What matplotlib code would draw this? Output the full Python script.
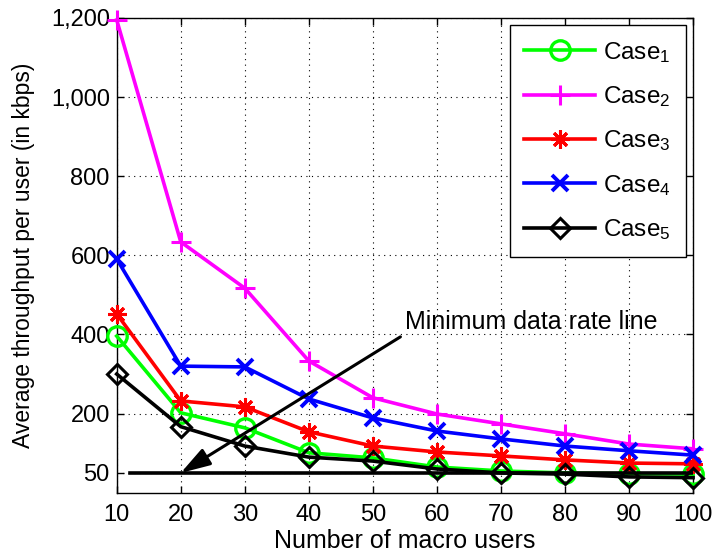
import matplotlib
matplotlib.use("Agg")
import matplotlib.pyplot as plt
from matplotlib.ticker import FuncFormatter

plt.rcParams["font.family"] = ["Liberation Sans", "DejaVu Sans"]
plt.rcParams["mathtext.fontset"] = "custom"
plt.rcParams["mathtext.rm"] = "Liberation Sans"
plt.rcParams["mathtext.it"] = "Liberation Sans"

users = [10, 20, 30, 40, 50, 60, 70, 80, 90, 100]
case1 = [396, 202, 164, 101, 88, 65, 55, 50, 48, 47]
case2 = [1195, 634, 517, 333, 240, 199, 174, 149, 123, 111]
case3 = [452, 232, 217, 154, 118, 103, 93, 83, 75, 73]
case4 = [591, 320, 318, 237, 189, 156, 136, 118, 106, 95]
case5 = [300, 167, 118, 90, 80, 60, 50, 47, 40, 38]
min_rate_x = [12, 100]
min_rate = [50, 50]
yticks = [50, 200, 400, 600, 800, 1000, 1200]

fig = plt.figure(figsize=(7.16, 5.57), dpi=100)
ax = fig.add_axes([0.163, 0.1154, 0.805, 0.8523])

lw = 2.6
kw = dict(lw=lw, clip_on=False, zorder=3)
ax.plot(users, case1, "-o", color="#00ff00", ms=14, mfc="none", mew=2.4, label="Case$_1$", **kw)
ax.plot(users, case2, "-+", color="#ff00ff", ms=14, mew=2.2, label="Case$_2$", **kw)
ax.plot(users, case3, "-", marker=(8, 2, 0), color="#ff0000", ms=13, mew=2.2, label="Case$_3$", **kw)
ax.plot(users, case4, "-x", color="#0000ff", ms=11, mew=2.8, label="Case$_4$", **kw)
ax.plot(users, case5, "-D", color="black", ms=10, mfc="none", mew=2.2, label="Case$_5$", **kw)
ax.plot(min_rate_x, min_rate, "-", color="black", lw=lw, zorder=3)

# arrow and label for the minimum rate line
ax.annotate("", xy=(20, 50), xytext=(54.3, 394),
            arrowprops=dict(arrowstyle="-|>,head_length=0.9,head_width=0.28",
                            color="black", lw=2.2, mutation_scale=20,
                            shrinkA=0, shrinkB=0))
ax.text(55, 432, "Minimum data rate line", fontsize=18, ha="left", va="center")

ax.set_xlim(10, 100)
ax.set_ylim(0, 1200)
ax.set_xticks(users)
ax.set_yticks(yticks)
ax.yaxis.set_major_formatter(FuncFormatter(lambda v, p: f"{int(v):,}"))
ax.tick_params(direction="in", top=True, right=True, labelsize=17, length=5, width=1)
ax.tick_params(axis="x", pad=8)
ax.tick_params(axis="y", pad=5)
ax.grid(True, linestyle=(0, (1, 4)), color="black", lw=0.8)
for s in ax.spines.values():
    s.set_linewidth(1.0)

ax.set_xlabel("Number of macro users", fontsize=18, labelpad=2)
ax.set_ylabel("Average throughput per user (in kbps)", fontsize=16.5, labelpad=11)

leg = ax.legend(loc="upper right", fontsize=17.5, handlelength=2.9, handletextpad=0.35,
                borderpad=0.6, borderaxespad=0.3, labelspacing=0.8, fancybox=False,
                framealpha=1, edgecolor="black")
leg.get_frame().set_linewidth(1.0)

fig.savefig("out.png", dpi=100)
